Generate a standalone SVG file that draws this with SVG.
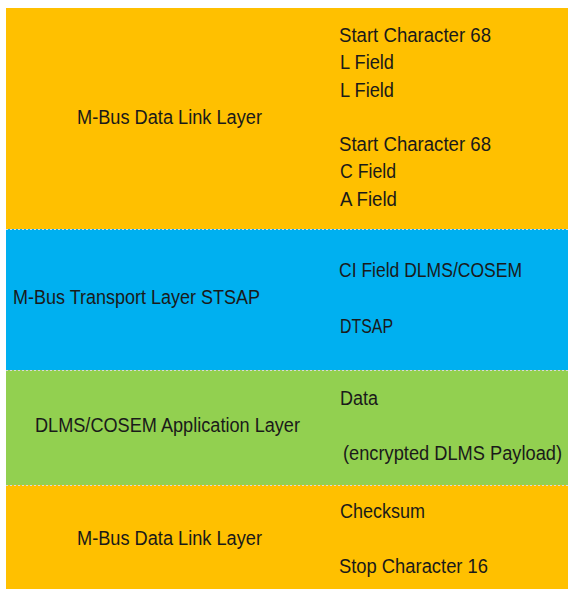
<svg xmlns="http://www.w3.org/2000/svg" width="568" height="589" viewBox="0 0 568 589">
<style>
.t{font-family:"Liberation Sans",Arial,sans-serif;font-size:19.5px;fill:#1a1a1a}
.yel{fill:#FFC000}
.blu{fill:#00B0F0}
.grn{fill:#92D050}
.sep{stroke:#d9d9d9;stroke-width:1.2;stroke-dasharray:2 2;fill:none}
</style>
<rect width="568" height="589" fill="#ffffff"/>
<g id="dll-top">
<rect class="yel" x="6" y="8" width="562" height="221"/>
<text class="t" x="77" y="124" textLength="185" lengthAdjust="spacingAndGlyphs">M-Bus Data Link Layer</text>
<text class="t" x="339" y="42" textLength="152" lengthAdjust="spacingAndGlyphs">Start Character 68</text>
<text class="t" x="340" y="69" textLength="54" lengthAdjust="spacingAndGlyphs">L Field</text>
<text class="t" x="340" y="97" textLength="54" lengthAdjust="spacingAndGlyphs">L Field</text>
<text class="t" x="339" y="151" textLength="152" lengthAdjust="spacingAndGlyphs">Start Character 68</text>
<text class="t" x="340" y="178" textLength="56" lengthAdjust="spacingAndGlyphs">C Field</text>
<text class="t" x="340" y="206" textLength="57" lengthAdjust="spacingAndGlyphs">A Field</text>
</g>
<g id="transport">
<rect class="blu" x="6" y="229" width="562" height="141"/>
<text class="t" x="13" y="304" textLength="247" lengthAdjust="spacingAndGlyphs">M-Bus Transport Layer STSAP</text>
<text class="t" x="339" y="277" textLength="183" lengthAdjust="spacingAndGlyphs">CI Field DLMS/COSEM</text>
<text class="t" x="340" y="333" textLength="53" lengthAdjust="spacingAndGlyphs">DTSAP</text>
</g>
<g id="application">
<rect class="grn" x="6" y="370" width="562" height="115"/>
<text class="t" x="35" y="432" textLength="265" lengthAdjust="spacingAndGlyphs">DLMS/COSEM Application Layer</text>
<text class="t" x="340" y="405" textLength="38" lengthAdjust="spacingAndGlyphs">Data</text>
<text class="t" x="343" y="460" textLength="219" lengthAdjust="spacingAndGlyphs">(encrypted DLMS Payload)</text>
</g>
<g id="dll-bottom">
<rect class="yel" x="6" y="485" width="562" height="104"/>
<text class="t" x="77" y="545" textLength="185" lengthAdjust="spacingAndGlyphs">M-Bus Data Link Layer</text>
<text class="t" x="340" y="518" textLength="85" lengthAdjust="spacingAndGlyphs">Checksum</text>
<text class="t" x="339" y="573" textLength="149" lengthAdjust="spacingAndGlyphs">Stop Character 16</text>
</g>
<g id="connectors">
<line class="sep" x1="6" y1="229.5" x2="568" y2="229.5"/>
<line class="sep" x1="6" y1="370.5" x2="568" y2="370.5"/>
<line class="sep" x1="6" y1="485.5" x2="568" y2="485.5"/>
</g>
</svg>
